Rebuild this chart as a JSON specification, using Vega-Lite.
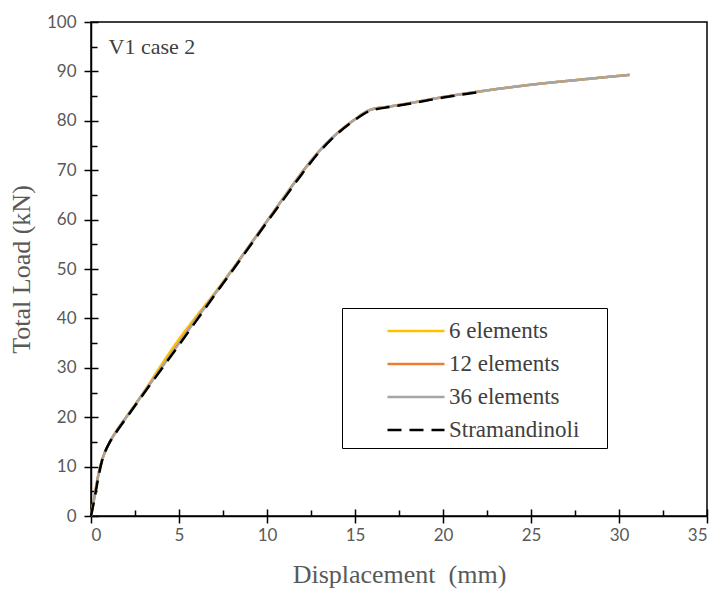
{
  "$schema": "https://vega.github.io/schema/vega-lite/v6.json",
  "width": 616,
  "height": 494,
  "autosize": "none",
  "padding": {"left": 91, "top": 22, "right": 10, "bottom": 74},
  "background": "white",
  "config": {
    "font": "Liberation Serif",
    "view": {"stroke": "black", "strokeWidth": 1.5},
    "axis": {"grid": false, "domainColor": "black", "domainWidth": 1.5, "tickColor": "black", "tickWidth": 1.5,
      "labelFont": "Lato", "labelFontSize": 17, "labelColor": "#595959",
      "titleFont": "Liberation Serif", "titleFontSize": 26, "titleFontWeight": "normal", "titleColor": "#595959"},
    "legend": {"orient": "none", "legendX": 251, "legendY": 286, "strokeColor": "black", "padding": 6,
      "symbolType": "M-1.84,0H1.84", "symbolSize": 961, "symbolOffset": 51, "labelFont": "Liberation Serif", "labelFontSize": 23,
      "labelColor": "#404040", "rowPadding": 4, "labelOffset": 16, "fillColor": "white",
      "titleOrient": "right", "titlePadding": 22, "titleFontSize": 8}
  },
  "datasets": {
    "curves": [
      {"series": "6 elements", "x": 0, "y": 0},
      {"series": "6 elements", "x": 0.2, "y": 4},
      {"series": "6 elements", "x": 0.4, "y": 8},
      {"series": "6 elements", "x": 0.6, "y": 11},
      {"series": "6 elements", "x": 0.8, "y": 13},
      {"series": "6 elements", "x": 1.0, "y": 14.5},
      {"series": "6 elements", "x": 1.5, "y": 17.5},
      {"series": "6 elements", "x": 2.0, "y": 20},
      {"series": "6 elements", "x": 2.5, "y": 22.5},
      {"series": "6 elements", "x": 3, "y": 25.1},
      {"series": "6 elements", "x": 4, "y": 30.6},
      {"series": "6 elements", "x": 5, "y": 35.8},
      {"series": "6 elements", "x": 6, "y": 40.5},
      {"series": "6 elements", "x": 7, "y": 45},
      {"series": "6 elements", "x": 8, "y": 49.8},
      {"series": "6 elements", "x": 9, "y": 54.7},
      {"series": "6 elements", "x": 10, "y": 59.7},
      {"series": "6 elements", "x": 11, "y": 64.7},
      {"series": "6 elements", "x": 12, "y": 69.6},
      {"series": "6 elements", "x": 13, "y": 74},
      {"series": "6 elements", "x": 14, "y": 77.5},
      {"series": "6 elements", "x": 15, "y": 80.3},
      {"series": "6 elements", "x": 15.85, "y": 82.2},
      {"series": "6 elements", "x": 17, "y": 82.9},
      {"series": "6 elements", "x": 18, "y": 83.5},
      {"series": "6 elements", "x": 20, "y": 84.8},
      {"series": "6 elements", "x": 22, "y": 85.9},
      {"series": "6 elements", "x": 25, "y": 87.3},
      {"series": "6 elements", "x": 28, "y": 88.4},
      {"series": "6 elements", "x": 30.6, "y": 89.3},
      {"series": "12 elements", "x": 0, "y": 0},
      {"series": "12 elements", "x": 0.2, "y": 4},
      {"series": "12 elements", "x": 0.4, "y": 8},
      {"series": "12 elements", "x": 0.6, "y": 11},
      {"series": "12 elements", "x": 0.8, "y": 13},
      {"series": "12 elements", "x": 1.0, "y": 14.5},
      {"series": "12 elements", "x": 1.5, "y": 17.5},
      {"series": "12 elements", "x": 2.0, "y": 20},
      {"series": "12 elements", "x": 2.5, "y": 22.5},
      {"series": "12 elements", "x": 3, "y": 25},
      {"series": "12 elements", "x": 4, "y": 30},
      {"series": "12 elements", "x": 5, "y": 35},
      {"series": "12 elements", "x": 6, "y": 40},
      {"series": "12 elements", "x": 7, "y": 44.8},
      {"series": "12 elements", "x": 8, "y": 49.7},
      {"series": "12 elements", "x": 9, "y": 54.7},
      {"series": "12 elements", "x": 10, "y": 59.7},
      {"series": "12 elements", "x": 11, "y": 64.7},
      {"series": "12 elements", "x": 12, "y": 69.6},
      {"series": "12 elements", "x": 13, "y": 74},
      {"series": "12 elements", "x": 14, "y": 77.5},
      {"series": "12 elements", "x": 15, "y": 80.3},
      {"series": "12 elements", "x": 15.85, "y": 82.2},
      {"series": "12 elements", "x": 17, "y": 82.9},
      {"series": "12 elements", "x": 18, "y": 83.5},
      {"series": "12 elements", "x": 20, "y": 84.8},
      {"series": "12 elements", "x": 22, "y": 85.9},
      {"series": "12 elements", "x": 25, "y": 87.3},
      {"series": "12 elements", "x": 28, "y": 88.4},
      {"series": "12 elements", "x": 30.6, "y": 89.3},
      {"series": "36 elements", "x": 0, "y": 0},
      {"series": "36 elements", "x": 0.2, "y": 4},
      {"series": "36 elements", "x": 0.4, "y": 8},
      {"series": "36 elements", "x": 0.6, "y": 11},
      {"series": "36 elements", "x": 0.8, "y": 13},
      {"series": "36 elements", "x": 1.0, "y": 14.5},
      {"series": "36 elements", "x": 1.5, "y": 17.5},
      {"series": "36 elements", "x": 2.0, "y": 20},
      {"series": "36 elements", "x": 2.5, "y": 22.5},
      {"series": "36 elements", "x": 3, "y": 25},
      {"series": "36 elements", "x": 4, "y": 30},
      {"series": "36 elements", "x": 5, "y": 35},
      {"series": "36 elements", "x": 6, "y": 40},
      {"series": "36 elements", "x": 7, "y": 44.8},
      {"series": "36 elements", "x": 8, "y": 49.7},
      {"series": "36 elements", "x": 9, "y": 54.7},
      {"series": "36 elements", "x": 10, "y": 59.7},
      {"series": "36 elements", "x": 11, "y": 64.7},
      {"series": "36 elements", "x": 12, "y": 69.6},
      {"series": "36 elements", "x": 13, "y": 74},
      {"series": "36 elements", "x": 14, "y": 77.5},
      {"series": "36 elements", "x": 15, "y": 80.3},
      {"series": "36 elements", "x": 15.85, "y": 82.2},
      {"series": "36 elements", "x": 17, "y": 82.9},
      {"series": "36 elements", "x": 18, "y": 83.5},
      {"series": "36 elements", "x": 20, "y": 84.8},
      {"series": "36 elements", "x": 22, "y": 85.9},
      {"series": "36 elements", "x": 25, "y": 87.3},
      {"series": "36 elements", "x": 28, "y": 88.4},
      {"series": "36 elements", "x": 30.6, "y": 89.3},
      {"series": "Stramandinoli", "x": 0, "y": 0},
      {"series": "Stramandinoli", "x": 0.2, "y": 3.5},
      {"series": "Stramandinoli", "x": 0.4, "y": 7.5},
      {"series": "Stramandinoli", "x": 0.6, "y": 10.8},
      {"series": "Stramandinoli", "x": 0.8, "y": 13},
      {"series": "Stramandinoli", "x": 1.0, "y": 14.5},
      {"series": "Stramandinoli", "x": 1.5, "y": 17.3},
      {"series": "Stramandinoli", "x": 2.0, "y": 19.8},
      {"series": "Stramandinoli", "x": 2.5, "y": 22.3},
      {"series": "Stramandinoli", "x": 3, "y": 24.8},
      {"series": "Stramandinoli", "x": 4, "y": 29.7},
      {"series": "Stramandinoli", "x": 5, "y": 34.6},
      {"series": "Stramandinoli", "x": 6, "y": 39.6},
      {"series": "Stramandinoli", "x": 7, "y": 44.6},
      {"series": "Stramandinoli", "x": 8, "y": 49.5},
      {"series": "Stramandinoli", "x": 9, "y": 54.5},
      {"series": "Stramandinoli", "x": 10, "y": 59.5},
      {"series": "Stramandinoli", "x": 11, "y": 64.4},
      {"series": "Stramandinoli", "x": 12, "y": 69.3},
      {"series": "Stramandinoli", "x": 13, "y": 73.8},
      {"series": "Stramandinoli", "x": 14, "y": 77.4},
      {"series": "Stramandinoli", "x": 15, "y": 80.2},
      {"series": "Stramandinoli", "x": 15.85, "y": 82},
      {"series": "Stramandinoli", "x": 17, "y": 82.8},
      {"series": "Stramandinoli", "x": 18, "y": 83.4},
      {"series": "Stramandinoli", "x": 20, "y": 84.7},
      {"series": "Stramandinoli", "x": 22, "y": 85.8}
    ]
  },
  "layer": [
    {
      "data": {"name": "curves"},
      "mark": {"type": "line", "interpolate": "monotone"},
      "encoding": {
        "x": {"field": "x", "type": "quantitative", "scale": {"domain": [0, 35], "nice": false},
          "axis": {"values": [0, 5, 10, 15, 20, 25, 30, 35], "tickSize": 7, "labelPadding": 4, "title": "Displacement\u00a0 (mm)", "titlePadding": 18, "orient": "bottom"}},
        "y": {"field": "y", "type": "quantitative", "scale": {"domain": [0, 100], "nice": false},
          "axis": {"values": [0, 10, 20, 30, 40, 50, 60, 70, 80, 90, 100], "tickSize": 7, "labelPadding": 8, "title": "Total Load (kN)", "titlePadding": 12, "orient": "left"}},
        "color": {"field": "series", "type": "nominal",
          "scale": {"domain": ["6 elements", "12 elements", "36 elements", "Stramandinoli"], "range": ["#FFC000", "#ED7D31", "#A5A5A5", "#000000"]},
          "legend": {"title": " "}},
        "strokeDash": {"field": "series", "type": "nominal",
          "scale": {"domain": ["6 elements", "12 elements", "36 elements", "Stramandinoli"], "range": [[1, 0], [1, 0], [1, 0], [14, 8]]},
          "legend": {"title": " "}},
        "strokeWidth": {"field": "series", "type": "nominal",
          "scale": {"domain": ["6 elements", "12 elements", "36 elements", "Stramandinoli"], "range": [2.5, 2.5, 2.5, 4.5]},
          "legend": {"title": " "}}
      }
    },
    {
      "data": {"values": [{"x": 0, "y": 0}]},
      "mark": {"type": "point", "opacity": 0},
      "encoding": {
        "x": {"field": "x", "type": "quantitative", "axis": {"values": [0, 5, 10, 15, 20, 25, 30, 35], "offset": -7, "tickSize": 7, "labels": false, "domain": false, "title": null, "orient": "bottom"}},
        "y": {"field": "y", "type": "quantitative", "axis": {"values": [0, 10, 20, 30, 40, 50, 60, 70, 80, 90, 100], "offset": -7, "tickSize": 7, "labels": false, "domain": false, "title": null, "orient": "left"}}
      }
    },
    {
      "data": {"values": [{"x": 0, "y": 0}]},
      "mark": {"type": "point", "opacity": 0},
      "encoding": {
        "x": {"field": "x", "type": "quantitative", "axis": {"values": [2.5, 7.5, 12.5, 17.5, 22.5, 27.5, 32.5], "offset": -6, "tickSize": 6, "labels": false, "domain": false, "title": null, "orient": "bottom"}},
        "y": {"field": "y", "type": "quantitative", "axis": {"values": [5, 15, 25, 35, 45, 55, 65, 75, 85, 95], "offset": -6, "tickSize": 6, "labels": false, "domain": false, "title": null, "orient": "left"}}
      }
    },
    {
      "data": {"values": [{"label": "V1 case 2", "x": 1, "y": 95}]},
      "mark": {"type": "text", "align": "left", "baseline": "middle", "font": "Liberation Serif", "fontSize": 22, "color": "#404040"},
      "encoding": {
        "x": {"field": "x", "type": "quantitative", "axis": null},
        "y": {"field": "y", "type": "quantitative", "axis": null},
        "text": {"field": "label", "type": "nominal"}
      }
    }
  ],
  "resolve": {"axis": {"x": "independent", "y": "independent"}}
}
